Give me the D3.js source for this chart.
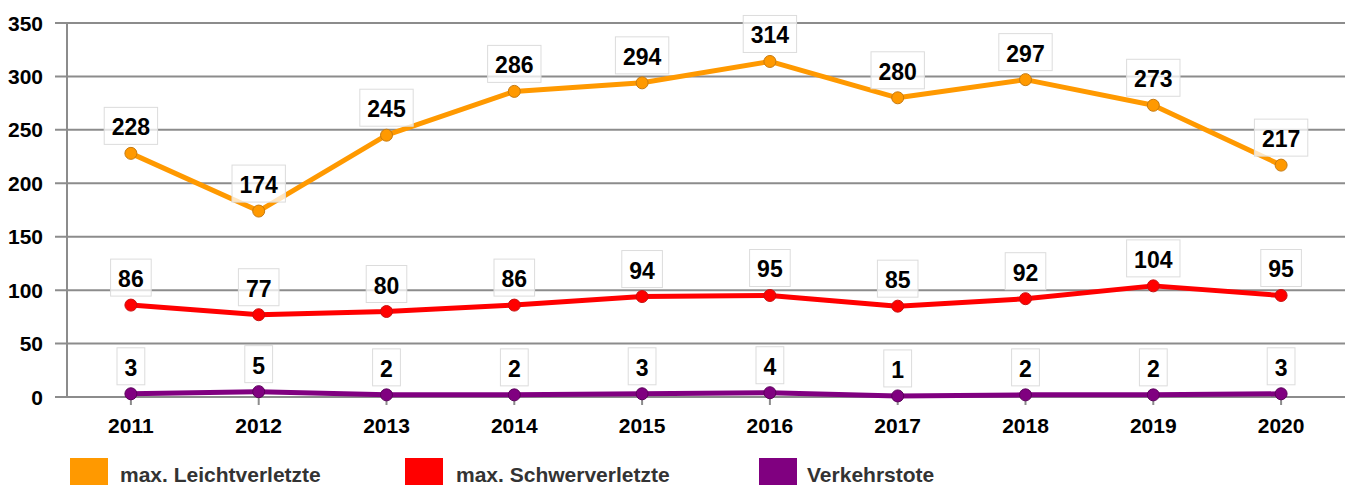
<!DOCTYPE html>
<html><head><meta charset="utf-8">
<script src="https://cdn.jsdelivr.net/npm/d3@7"></script>
<style>
html,body{margin:0;padding:0;background:#fff;}
svg{display:block;font-family:"Liberation Sans",Arial,sans-serif;}
</style></head>
<body>
<svg id="chart" width="1352" height="485"></svg>
<script>
const years = ["2011","2012","2013","2014","2015","2016","2017","2018","2019","2020"];
const leicht = [228,174,245,286,294,314,280,297,273,217];
const schwer = [86,77,80,86,94,95,85,92,104,95];
const tote = [3,5,2,2,3,4,1,2,2,3];
const yTicks = [0,50,100,150,200,250,300,350];
const seriesNames = ["max. Leichtverletzte","max. Schwerverletzte","Verkehrstote"];
const seriesColors = ["#ff9900","#ff0000","#800080"];
const markerStroke = ["#c67a10","#c81010","#5a005a"];

(function(){
const svg = d3.select("#chart");
const mLeft = 67, mRight = 1345, mTop = 23, mBottom = 397;

const x = d3.scaleBand().domain(years).range([mLeft, mRight]);
const y = d3.scaleLinear().domain([0,350]).range([mBottom, mTop]);
const cx = d => x(d) + x.bandwidth()/2;

// gridlines
const gy = svg.append("g");
gy.selectAll("line").data(yTicks).join("line")
  .attr("x1", 55).attr("x2", mRight)
  .attr("y1", d => y(d)).attr("y2", d => y(d))
  .attr("stroke", "#8c8c8c").attr("stroke-width", 2);
svg.append("line").attr("x1", mLeft).attr("x2", mLeft).attr("y1", mTop).attr("y2", mBottom)
  .attr("stroke", "#8c8c8c").attr("stroke-width", 2);
gy.selectAll("text").data(yTicks).join("text")
  .attr("x", 43).attr("y", d => y(d)).attr("dy", "0.36em")
  .attr("text-anchor", "end").attr("font-weight", "bold").attr("font-size", 21)
  .attr("fill", "#000").text(d => d);

// x ticks
const gx = svg.append("g");
gx.selectAll("line").data(years).join("line")
  .attr("x1", d => cx(d)).attr("x2", d => cx(d))
  .attr("y1", mBottom).attr("y2", mBottom + 8)
  .attr("stroke", "#8c8c8c").attr("stroke-width", 2);
gx.selectAll("text").data(years).join("text")
  .attr("x", d => cx(d)).attr("y", 433)
  .attr("text-anchor", "middle").attr("font-weight", "bold").attr("font-size", 21)
  .attr("fill", "#000").text(d => d);

const allSeries = [leicht, schwer, tote];
const line = d3.line().x((d,i) => cx(years[i])).y(d => y(d));

allSeries.forEach((vals, si) => {
  svg.append("path").datum(vals).attr("d", line)
    .attr("fill", "none").attr("stroke", seriesColors[si]).attr("stroke-width", 5)
    .attr("stroke-linejoin", "round");
  svg.append("g").selectAll("circle").data(vals).join("circle")
    .attr("cx", (d,i) => cx(years[i])).attr("cy", d => y(d)).attr("r", 6)
    .attr("fill", seriesColors[si]).attr("stroke", markerStroke[si]).attr("stroke-width", 1);
});

// labels
allSeries.forEach((vals, si) => {
  const g = svg.append("g");
  vals.forEach((v, i) => {
    const px = cx(years[i]), py = y(v);
    const lg = g.append("g");
    const rect = lg.append("rect");
    const t = lg.append("text").attr("x", px).attr("y", py - 18)
      .attr("text-anchor", "middle").attr("font-weight", "bold").attr("font-size", 23)
      .attr("fill", "#000").text(v);
    const w = t.node().getComputedTextLength() + 15;
    rect.attr("x", px - w/2).attr("y", py - 46).attr("width", w).attr("height", 37)
      .attr("fill", "#fff").attr("fill-opacity", 0.75)
      .attr("stroke", "#dcdcdc").attr("stroke-width", 1);
  });
});

// legend
const legX = [70, 405, 759];
const legT = [120, 456, 807];
const leg = svg.append("g");
seriesNames.forEach((n, i) => {
  leg.append("rect").attr("x", legX[i]).attr("y", 458).attr("width", 38).attr("height", 27)
    .attr("fill", seriesColors[i]);
  leg.append("text").attr("x", legT[i]).attr("y", 482)
    .attr("font-weight", "bold").attr("font-size", 21).attr("fill", "#333").text(n);
});
})();
</script>
</body></html>
